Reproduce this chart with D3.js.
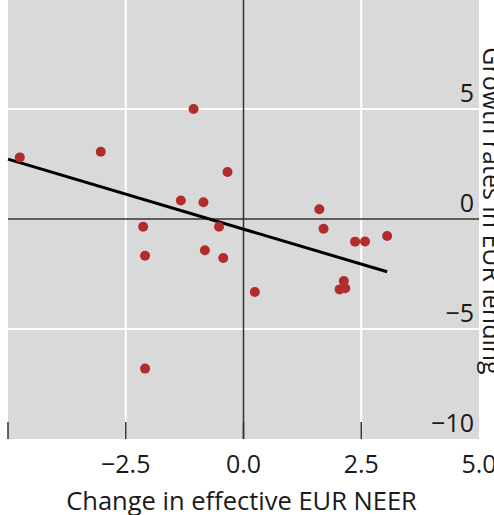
<!DOCTYPE html>
<html>
<head>
<meta charset="utf-8">
<script src="https://cdn.jsdelivr.net/npm/d3@7"></script>
<style>
  html, body { margin: 0; padding: 0; background: #fff; }
  svg { display: block; }
  text { font-family: "Open Sans", "Noto Sans", sans-serif; fill: #1a1a1a; }
</style>
</head>
<body>
<svg id="chart" width="494" height="515"></svg>
<script>
// change in effective EUR NEER (x) vs growth rates in EUR lending (y)
var neer = [-1.06, -4.75, -3.03, -0.34, -1.33, -0.85, 1.61, -2.13, -0.52, 1.70, 2.37,
            2.58, 3.05, -2.09, -0.82, -0.43, 0.24, 2.13, 2.04, 2.16, -2.09];
var lending = [5.0, 2.8, 3.06, 2.14, 0.84, 0.76, 0.44, -0.35, -0.35, -0.44, -1.03,
               -1.02, -0.77, -1.67, -1.42, -1.77, -3.32, -2.82, -3.20, -3.15, -6.8];

// fitted line endpoints
var fit_x = [-5.0, 3.05];
var fit_y = [2.72, -2.40];

var x_ticks = [-5, -2.5, 0, 2.5, 5];
var x_labels = ["", "\u22122.5", "0.0", "2.5", "5.0"];
var y_ticks = [-10, -5, 0, 5];
var y_labels = ["\u221210", "\u22125", "0", "5"];

var svg = d3.select("#chart");

var x = d3.scaleLinear().domain([-5, 5]).range([8, 479]);
var y = d3.scaleLinear().domain([-10, 10]).range([439, -1]);

// panel background
svg.append("rect")
    .attr("x", x(-5))
    .attr("y", 0)
    .attr("width", x(5) - x(-5))
    .attr("height", y(-10) - 0)
    .attr("fill", "#d9d9d9");

// grid lines
svg.append("g").selectAll("line").data([-2.5, 2.5]).enter().append("line")
    .attr("x1", function (d) { return x(d); })
    .attr("x2", function (d) { return x(d); })
    .attr("y1", 0)
    .attr("y2", y(-10))
    .attr("stroke", "#fff")
    .attr("stroke-width", 2);

svg.append("g").selectAll("line").data([-5, 5]).enter().append("line")
    .attr("x1", x(-5))
    .attr("x2", x(5))
    .attr("y1", function (d) { return y(d); })
    .attr("y2", function (d) { return y(d); })
    .attr("stroke", "#fff")
    .attr("stroke-width", 2);

// zero lines
svg.append("line")
    .attr("x1", x(0)).attr("x2", x(0))
    .attr("y1", 0).attr("y2", y(-10))
    .attr("stroke", "#333").attr("stroke-width", 1.5);
svg.append("line")
    .attr("x1", x(-5)).attr("x2", x(5))
    .attr("y1", y(0)).attr("y2", y(0))
    .attr("stroke", "#333").attr("stroke-width", 1.5);

// x ticks (inside panel, from the bottom)
svg.append("g").selectAll("line").data(x_ticks.slice(0, 4)).enter().append("line")
    .attr("x1", function (d) { return x(d); })
    .attr("x2", function (d) { return x(d); })
    .attr("y1", y(-10) - 17)
    .attr("y2", y(-10))
    .attr("stroke", "#333")
    .attr("stroke-width", 1.5);

svg.append("g").selectAll("text").data(x_ticks).enter().append("text")
    .attr("x", function (d) { return x(d); })
    .attr("y", 473)
    .attr("text-anchor", "middle")
    .attr("font-size", 25)
    .text(function (d, i) { return x_labels[i]; });

svg.append("g").selectAll("text").data(y_ticks).enter().append("text")
    .attr("x", 474)
    .attr("y", function (d) { return y(d) - 7; })
    .attr("text-anchor", "end")
    .attr("font-size", 25)
    .text(function (d, i) { return y_labels[i]; });

// axis titles
svg.append("text")
    .attr("x", x(0) - 2)
    .attr("y", 510)
    .attr("text-anchor", "middle")
    .attr("font-size", 25.5)
    .text("Change in effective EUR NEER");

svg.append("text")
    .attr("transform", "translate(483,211) rotate(90)")
    .attr("text-anchor", "middle")
    .attr("font-size", 25)
    .text("Growth rates in EUR lending");

// fitted line
var lineFunction = d3.line()
    .x(function (d) { return x(d[0]); })
    .y(function (d) { return y(d[1]); });

svg.append("path")
    .attr("d", lineFunction(d3.zip(fit_x, fit_y)))
    .attr("stroke", "#000")
    .attr("stroke-width", 3)
    .attr("fill", "none");

// points
svg.append("g").selectAll("circle").data(d3.zip(neer, lending)).enter().append("circle")
    .attr("cx", function (d) { return x(d[0]); })
    .attr("cy", function (d) { return y(d[1]); })
    .attr("r", 5)
    .attr("fill", "#b22c2c");
</script>
</body>
</html>
